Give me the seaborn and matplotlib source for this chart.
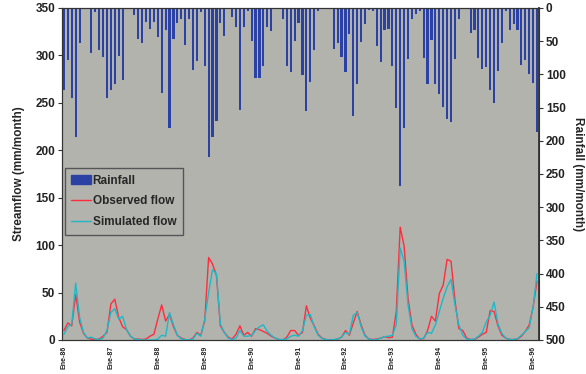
import matplotlib
matplotlib.use("Agg")
import matplotlib.pyplot as plt
import seaborn as sns
import pandas as pd
from matplotlib.patches import Patch
from matplotlib.lines import Line2D

# ---- data (monthly, Ene-86 .. Feb-96) ----
months = list(range(122))
rainfall = [123, 79, 136, 195, 53, 0, 2, 68, 6, 63, 74, 136, 124, 115, 72, 108, 2, 0, 11, 46,
            52, 21, 32, 21, 44, 128, 33, 181, 47, 22, 16, 56, 16, 94, 80, 6, 88, 224, 195, 170,
            23, 42, 0, 13, 29, 154, 29, 4, 50, 106, 105, 87, 29, 35, 2, 0, 16, 88, 97, 49,
            22, 101, 155, 111, 63, 5, 2, 2, 2, 61, 53, 74, 97, 39, 162, 114, 51, 24, 3, 4,
            57, 82, 33, 32, 88, 151, 268, 181, 77, 16, 9, 4, 75, 115, 48, 114, 130, 149, 167, 172,
            77, 17, 1, 1, 38, 33, 75, 92, 89, 124, 143, 95, 53, 5, 33, 24, 33, 86, 78, 100,
            113, 187]
observed = [10, 18, 15, 48, 19, 7, 2, 1, 0.5, 1, 4, 8, 38, 43, 24, 14, 11, 4, 1, 1,
            0.5, 1, 4, 6, 22, 37, 20, 27, 14, 5, 2, 0.5, 0, 2, 8, 5, 20, 87, 80, 68,
            15, 8, 3, 1, 6, 15, 5, 8, 4, 12, 11, 9, 7, 4, 2, 0.5, 0, 3, 10, 10,
            5, 8, 36, 23, 15, 6, 2, 0.5, 0, 0, 1, 3, 10, 5, 18, 30, 16, 5, 1, 0.5,
            1, 2, 3.5, 2.5, 3, 30, 119, 99, 44, 16, 6, 1, 1.5, 10, 25, 20, 49, 58, 85, 83,
            42, 12, 10, 2, 0.5, 0.5, 3, 6, 8, 31, 30, 15, 5, 2, 0.5, 0.5, 1, 4, 9, 16,
            35, 62]
simulated = [6, 14, 17, 60, 24, 8, 2, 3, 1, 0.5, 2, 10, 29, 33, 22, 25, 11, 4, 1, 0.5,
             0, 0, 0, 0, 1, 5, 4, 29, 16, 5, 1, 0.5, 0, 1, 7, 4, 22, 50, 74, 70,
             17, 8, 2, 0.5, 2, 10, 4, 4, 5, 10, 14, 16, 9, 5, 2, 0.5, 0.5, 1, 4, 5,
             4, 10, 26, 27, 14, 5, 1.5, 0.5, 0, 0.5, 1, 3, 8, 6, 26, 29, 14, 4, 1, 0,
             0.5, 2, 3.5, 4, 5, 16, 97, 83, 37, 12, 4, 1, 2, 8, 7, 16, 30, 44, 56, 64,
             37, 16, 5, 1, 0.5, 1, 4, 8, 19, 26, 40, 17, 7, 2, 0.5, 0.5, 1.5, 5, 9, 13,
             35, 70]
tick_positions = [0, 12, 24, 36, 48, 60, 72, 84, 96, 108, 120]
tick_labels = ["Ene-86", "Ene-87", "Ene-88", "Ene-89", "Ene-90", "Ene-91",
               "Ene-92", "Ene-93", "Ene-94", "Ene-95", "Ene-96"]

bg = "#b3b3ae"
bar_color = "#2b41a4"
red = "#ff2d3c"
cyan = "#1fb8c6"

sns.set_style("white")
plt.rcParams["font.family"] = ["Liberation Sans", "DejaVu Sans"]
plt.rcParams["font.weight"] = "bold"
plt.rcParams["axes.labelweight"] = "bold"

df = pd.DataFrame({"month": months, "rain": rainfall,
                   "observed": observed, "simulated": simulated})

fig = plt.figure(figsize=(5.86, 3.74), dpi=100)
ax = fig.add_axes([62 / 586, 1 - 340 / 374, 477 / 586, 332 / 374])
ax2 = ax.twinx()

# rainfall bars on the right (inverted) axis
sns.barplot(data=df, x="month", y="rain", ax=ax2, color=bar_color,
            native_scale=True, width=0.55, saturation=1, linewidth=0)
ax2.set_ylim(500, 0)
ax2.set_yticks(range(0, 501, 50))
ax2.set_ylabel("Rainfall (mm/month)", rotation=-90, labelpad=13, fontsize=8.5)

# flows on the left axis
sns.lineplot(data=df, x="month", y="observed", ax=ax, color=red, linewidth=1.0)
sns.lineplot(data=df, x="month", y="simulated", ax=ax, color=cyan, linewidth=1.0)
ax.set_ylim(0, 350)
ax.set_yticks(range(0, 351, 50))
ax.set_ylabel("Streamflow (mm/month)", fontsize=8.5, labelpad=7)
ax.set_xlabel("")
ax2.set_xlabel("")

ax.set_xlim(-0.5, 121.5)
ax.set_xticks(tick_positions)
ax.set_xticklabels(tick_labels, rotation=90, fontsize=5)

# layering: flows/legend above bars
ax.set_zorder(ax2.get_zorder() + 1)
ax.patch.set_visible(False)
ax2.patch.set_visible(True)
ax2.set_facecolor(bg)

for a in (ax, ax2):
    for s in a.spines.values():
        s.set_color("#333333")
        s.set_linewidth(0.8)
    a.tick_params(axis="both", length=3, width=0.8, color="#333333",
                  labelsize=8.5, labelcolor="#222222", pad=2)
ax.tick_params(axis="x", labelsize=5, length=2, pad=2)
ax2.spines["right"].set_linewidth(1.3)
ax2.tick_params(axis="y", direction="out", right=True, left=False)
ax.tick_params(axis="y", direction="out", left=True, right=False)

handles = [Patch(facecolor=bar_color, edgecolor=bar_color),
           Line2D([], [], color=red, lw=1.0),
           Line2D([], [], color=cyan, lw=1.0)]
leg = ax.legend(handles, ["Rainfall", "Observed flow", "Simulated flow"],
                loc="upper left", bbox_to_anchor=(0.006, 0.518), borderaxespad=0,
                fancybox=False, framealpha=1, facecolor=bg, edgecolor="#555555",
                prop={"size": 8.5, "weight": "bold"}, handlelength=1.7,
                handletextpad=0.1, labelspacing=0.75, borderpad=0.55)
leg.get_frame().set_linewidth(1.0)

fig.savefig("out.png", dpi=100)
